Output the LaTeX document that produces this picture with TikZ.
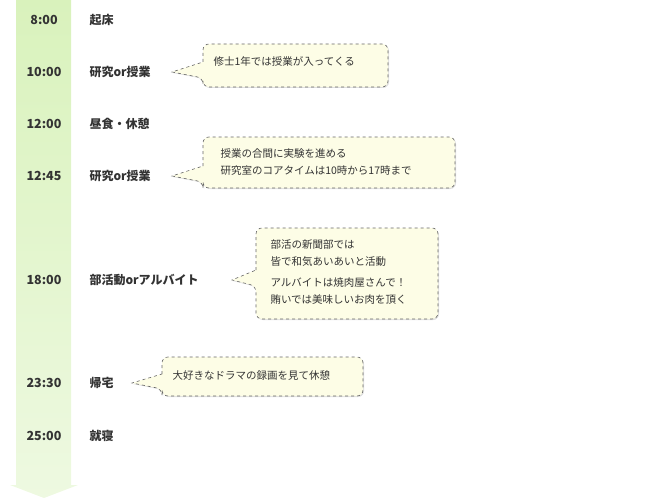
\documentclass[tikz,border=0pt]{standalone}
\usepackage{fontspec}
\setmainfont{Noto Sans CJK JP}
\usetikzlibrary{shadows}
\definecolor{bargreen}{HTML}{D9F2BC}
\definecolor{notefill}{HTML}{FDFDE6}
\definecolor{inkgray}{HTML}{333333}
\tikzset{
  timenode/.style = {font=\bfseries\fontsize{12.5}{14}\selectfont, text=inkgray},
  eventnode/.style = {font=\bfseries\fontsize{12}{14}\selectfont, text=inkgray, anchor=west},
  notetext/.style  = {font=\fontsize{10.5}{17.5}\selectfont, text=inkgray, anchor=west, align=left},
  callout/.style   = {draw=gray!80!black, dashed, fill=notefill, line width=0.6pt,
                      drop shadow={opacity=0.25, shadow xshift=1pt, shadow yshift=-1pt}}
}
% callout box: left, top, right, bottom, pointer y range, tip
\newcommand{\notebox}[7]{%
  \draw[callout, rounded corners=6pt] (#1,#5) -- (#1,#2) -- (#3,#2) -- (#3,#4) -- (#1,#4)
    -- (#1,#6) [sharp corners] -- #7 -- cycle;}
\begin{document}
\begin{tikzpicture}[x=1pt, y=-1pt]
\useasboundingbox (0,0) rectangle (650,500);
% time bar
\shade[top color=bargreen, bottom color=bargreen!45]
  (16,0) -- (71,0) -- (71,485) -- (78,485) -- (44,498) -- (10,485) -- (16,485) -- cycle;
% times and events
\node[timenode] (t800)  at (44,20)  {8:00};
\node[timenode] (t1000) at (44,72)  {10:00};
\node[timenode] (t1200) at (44,124) {12:00};
\node[timenode] (t1245) at (44,176) {12:45};
\node[timenode] (t1800) at (44,280) {18:00};
\node[timenode] (t2330) at (44,383) {23:30};
\node[timenode] (t2500) at (44,436) {25:00};
\node[eventnode] (wake)   at (86,20)  {起床};
\node[eventnode] (study1) at (86,72)  {研究or授業};
\node[eventnode] (lunch)  at (86,124) {昼食・休憩};
\node[eventnode] (study2) at (86,176) {研究or授業};
\node[eventnode] (club)   at (86,280) {部活動orアルバイト};
\node[eventnode] (home)   at (86,383) {帰宅};
\node[eventnode] (sleep)  at (86,436) {就寝};
% callouts
\notebox{203}{44}{388}{87}{62}{78}{(172,72)}
\node[notetext] (note1) at (210,61) {修士1年では授業が入ってくる};
\notebox{203}{137}{455}{188}{166}{182}{(172,176)}
\node[notetext] (note2) at (217,162) {授業の合間に実験を進める\\研究室のコアタイムは10時から17時まで};
\notebox{256}{228}{438}{319}{270}{286}{(232,280)}
\node[notetext] (note3) at (267,253) {部活の新聞部では\\皆で和気あいあいと活動};
\node[notetext] (note4) at (267,291) {アルバイトは焼肉屋さんで！\\賄いでは美味しいお肉を頂く};
\notebox{162}{357}{363}{396}{374}{389}{(132,383)}
\node[notetext] (note5) at (169,375) {大好きなドラマの録画を見て休憩};
\end{tikzpicture}
\end{document}
